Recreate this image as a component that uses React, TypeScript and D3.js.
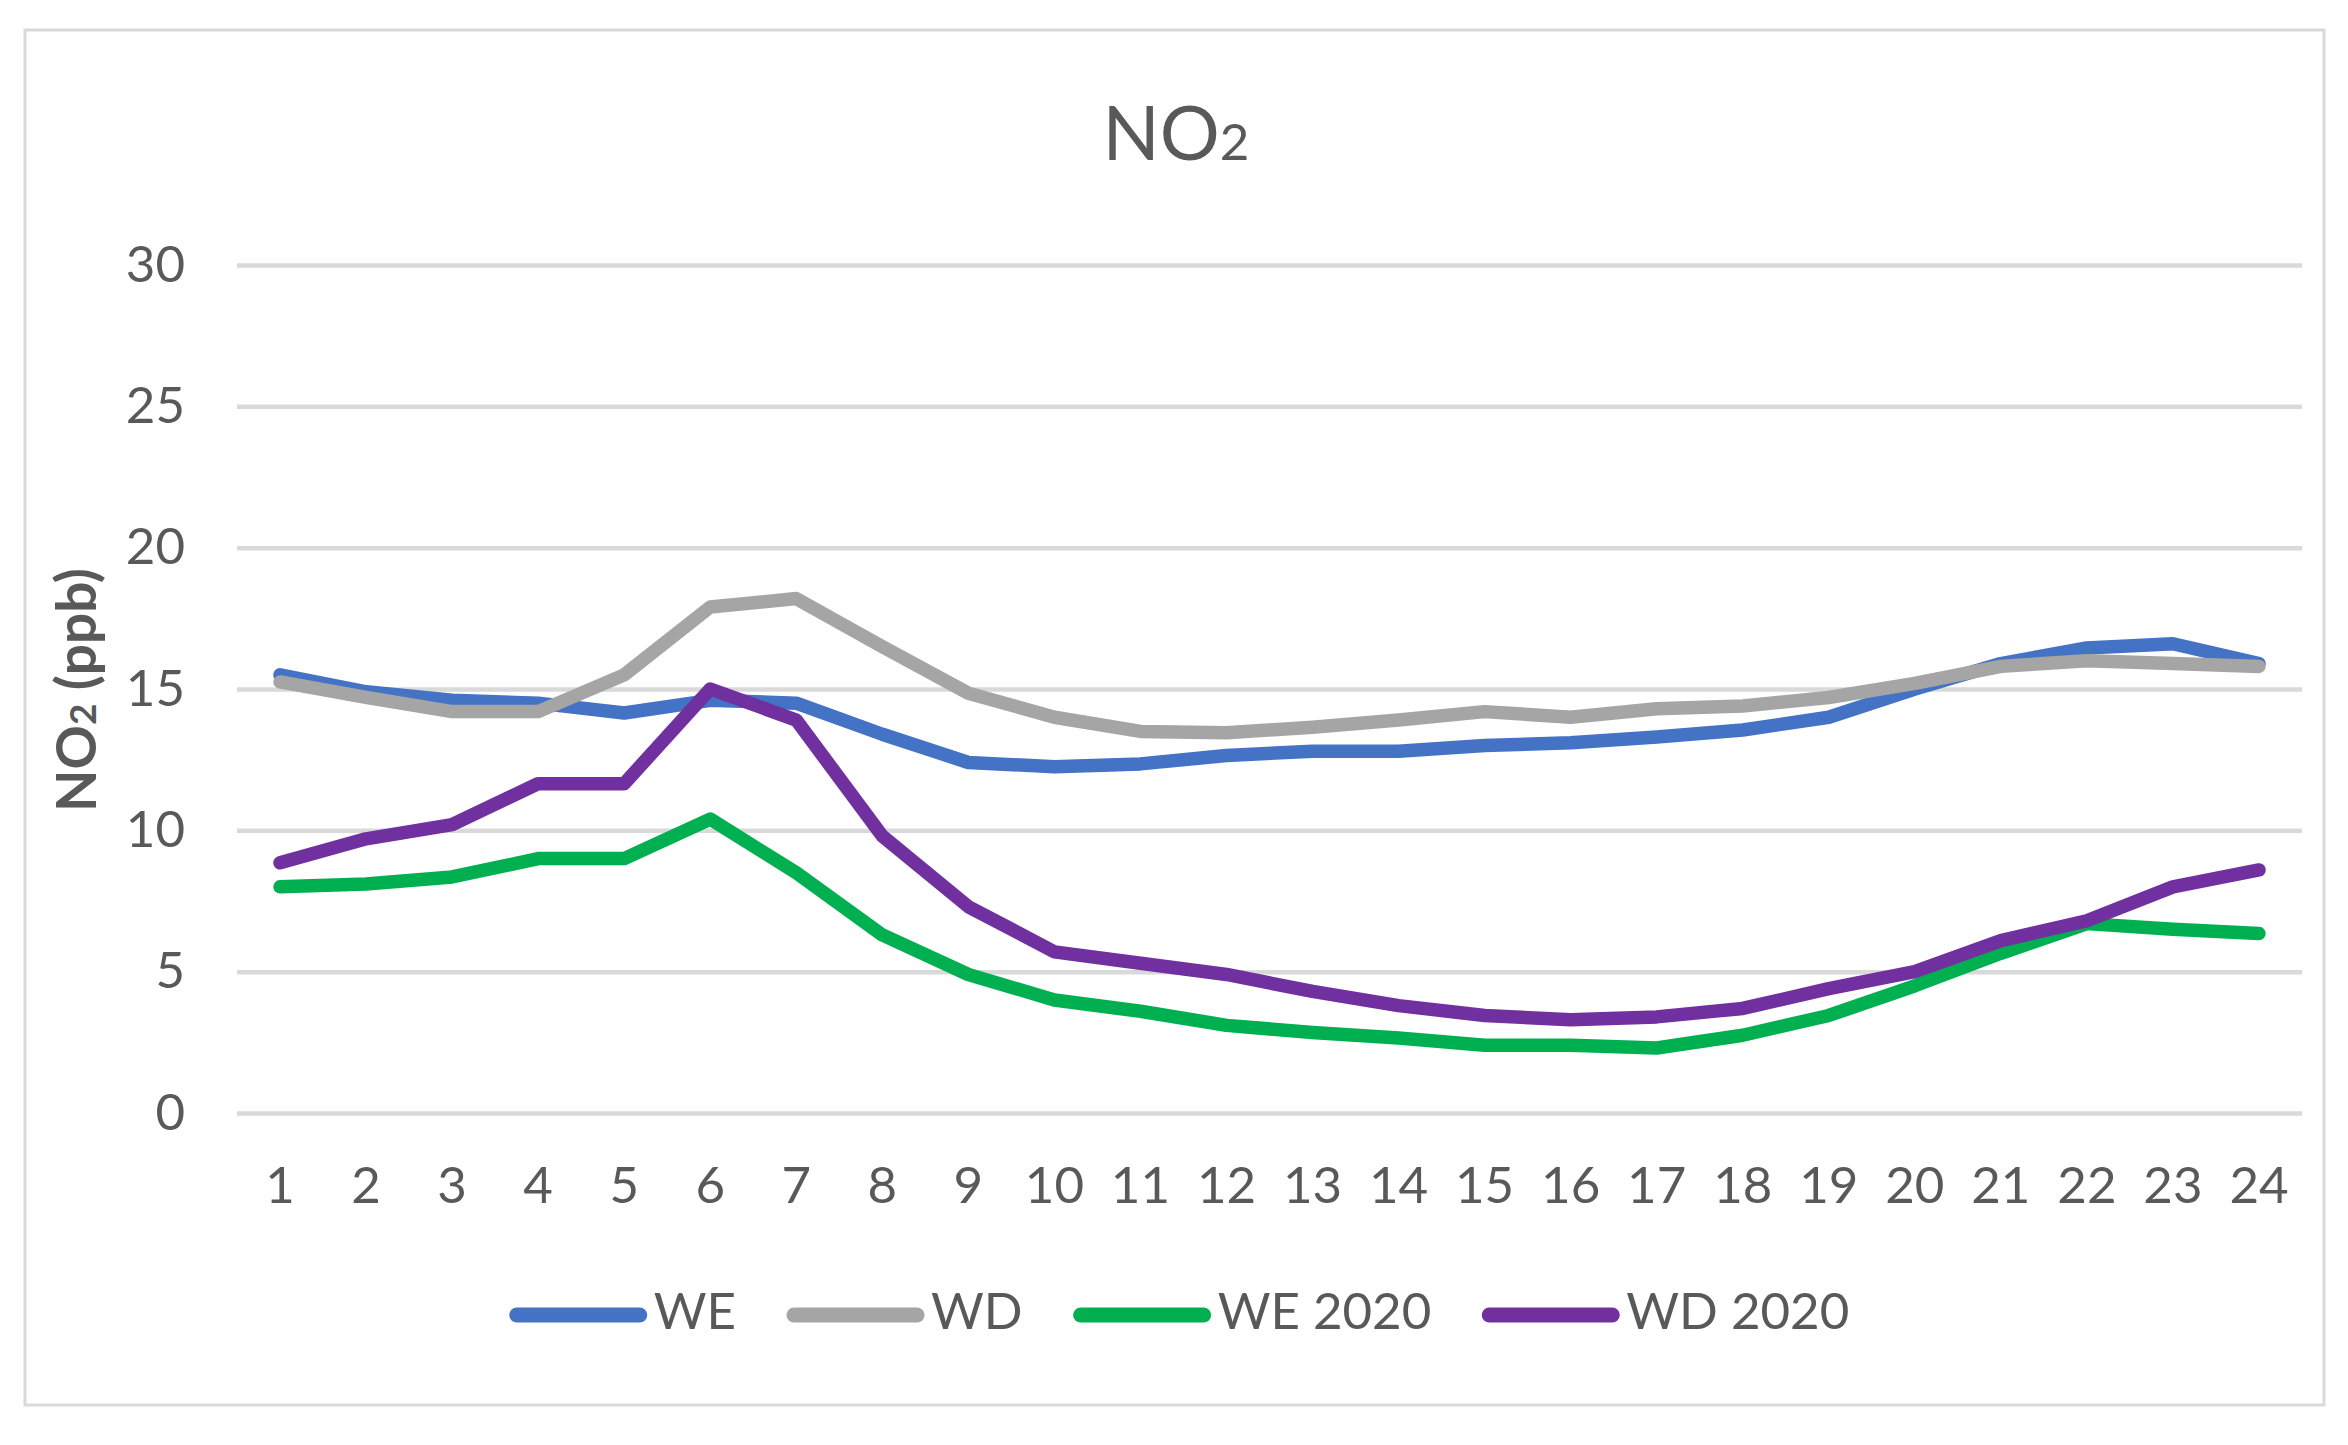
import * as React from 'react';
import * as d3 from 'd3';
import {useEffect, useRef} from 'react';

const hours: string[] = ['1', '2', '3', '4', '5', '6', '7', '8', '9', '10', '11', '12', '13', '14', '15', '16', '17', '18', '19', '20', '21', '22', '23', '24'];
const we: number[] = [15.5, 14.9, 14.6, 14.5, 14.15, 14.6, 14.5, 13.4, 12.4, 12.25, 12.35, 12.65, 12.8, 12.8, 13.0, 13.1, 13.3, 13.55, 14.0, 15.0, 15.9, 16.45, 16.6, 15.9];
const wd: number[] = [15.25, 14.7, 14.2, 14.2, 15.5, 17.9, 18.2, 16.5, 14.85, 14.0, 13.5, 13.45, 13.65, 13.9, 14.2, 14.0, 14.3, 14.4, 14.7, 15.2, 15.8, 16.0, 15.9, 15.8];
const we2020: number[] = [8.0, 8.1, 8.35, 9.0, 9.0, 10.4, 8.5, 6.3, 4.9, 4.0, 3.6, 3.1, 2.85, 2.65, 2.4, 2.4, 2.3, 2.75, 3.45, 4.5, 5.65, 6.7, 6.5, 6.35];
const wd2020: number[] = [8.85, 9.7, 10.2, 11.65, 11.65, 15.0, 13.9, 9.8, 7.3, 5.7, 5.3, 4.9, 4.3, 3.8, 3.45, 3.3, 3.4, 3.7, 4.4, 5.0, 6.1, 6.8, 8.0, 8.6];
const seriesNames: string[] = ['WE', 'WD', 'WE 2020', 'WD 2020'];
const seriesColors: string[] = ['#4472C4', '#A5A5A5', '#00B050', '#7030A0'];
const yTicks: number[] = [0, 5, 10, 15, 20, 25, 30];

const W = 2348;
const H = 1445;
const plot = {left: 237, right: 2302, top: 265, bottom: 1113};
const textColor = '#595959';
const font = 'Lato, Carlito, Calibri, sans-serif';

export default function App() {
    const svgRef = useRef<SVGSVGElement>(null);

    useEffect(() => {
        const svg = d3.select(svgRef.current);
        svg.selectAll('*').remove();

        const series = [we, wd, we2020, wd2020];

        const x = d3.scaleBand().domain(hours).range([plot.left, plot.right]);
        const y = d3.scaleLinear().domain([0, 30]).range([plot.bottom, plot.top]);

        // chart area border
        svg.append('rect')
            .attr('x', 25).attr('y', 30)
            .attr('width', 2299).attr('height', 1375)
            .attr('fill', '#fff')
            .attr('stroke', '#D9D9D9')
            .attr('stroke-width', 3);

        // title
        const title = svg.append('text')
            .attr('x', 1176).attr('y', 160)
            .attr('text-anchor', 'middle')
            .attr('font-family', font)
            .attr('font-size', 75)
            .attr('fill', textColor);
        title.append('tspan').text('NO');
        title.append('tspan').attr('font-size', 51).text('2');

        // gridlines + y labels
        const yAxis = d3.axisLeft(y).tickValues(yTicks).tickSize(-(plot.right - plot.left)).tickPadding(52);
        const gy = svg.append('g').attr('transform', `translate(${plot.left},0)`).call(yAxis);
        gy.select('.domain').remove();
        gy.selectAll('.tick line').attr('stroke', '#D9D9D9').attr('stroke-width', 4.5);
        gy.selectAll('.tick text')
            .attr('font-family', font)
            .attr('font-size', 51)
            .attr('fill', textColor);

        // x labels
        const xAxis = d3.axisBottom(x).tickSize(0).tickPadding(0);
        const gx = svg.append('g').attr('transform', `translate(0,${plot.bottom})`).call(xAxis);
        gx.select('.domain').remove();
        gx.selectAll('.tick text')
            .attr('y', 90)
            .attr('dy', 0)
            .attr('font-family', font)
            .attr('font-size', 51)
            .attr('fill', textColor);

        // y axis title
        const yTitle = svg.append('text')
            .attr('transform', 'translate(96,690) rotate(-90)')
            .attr('text-anchor', 'middle')
            .attr('font-family', font)
            .attr('font-weight', 'bold')
            .attr('font-size', 55)
            .attr('fill', textColor);
        yTitle.append('tspan').text('NO');
        yTitle.append('tspan').attr('font-size', 37).text('2');
        yTitle.append('tspan').text(' (ppb)');

        // lines
        const line = d3.line<number>()
            .x((d, i) => (x(hours[i]) as number) + x.bandwidth() / 2)
            .y((d) => y(d));
        series.forEach((s, i) => {
            svg.append('path')
                .datum(s)
                .attr('d', line)
                .attr('fill', 'none')
                .attr('stroke', seriesColors[i])
                .attr('stroke-width', 13.5)
                .attr('stroke-linejoin', 'round')
                .attr('stroke-linecap', 'round');
        });

        // legend
        const legend = svg.append('g');
        const lineLen = 135;
        const gap = 8;
        const itemGap = 52;
        let cursor = 0;
        seriesNames.forEach((name, i) => {
            const item = legend.append('g').attr('transform', `translate(${cursor},0)`);
            item.append('line')
                .attr('x1', 6).attr('x2', lineLen - 6)
                .attr('y1', 0).attr('y2', 0)
                .attr('stroke', seriesColors[i])
                .attr('stroke-width', 15)
                .attr('stroke-linecap', 'round');
            const t = item.append('text')
                .attr('x', lineLen + gap)
                .attr('y', 14)
                .attr('font-family', font)
                .attr('font-size', 51)
                .attr('fill', textColor)
                .text(name);
            const tw = (t.node() as SVGTextElement).getComputedTextLength();
            cursor += lineLen + gap + tw + itemGap;
        });
        const total = cursor - itemGap;
        legend.attr('transform', `translate(${1180 - total / 2},1315)`);
    }, []);

    return (
        <svg ref={svgRef} width={W} height={H} viewBox={`0 0 ${W} ${H}`}
             style={{position: 'absolute', left: 0, top: 0, background: '#fff'}}/>
    );
}
